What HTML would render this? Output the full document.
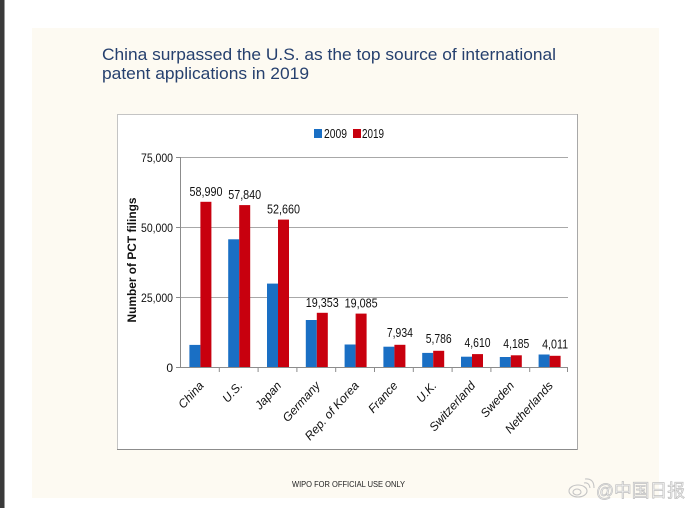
<!DOCTYPE html>
<html><head><meta charset="utf-8"><style>
html,body{margin:0;padding:0;background:#fff;}
svg{display:block;}
text{font-family:"Liberation Sans",sans-serif;}
</style></head><body>
<svg width="690" height="508" viewBox="0 0 690 508" xmlns="http://www.w3.org/2000/svg">
<rect x="0" y="0" width="690" height="508" fill="#ffffff"/>
<rect x="0" y="0" width="4" height="508" fill="#3a3a3a"/>
<rect x="4" y="0" width="1" height="508" fill="#9a9a9a"/>
<rect x="32" y="28" width="627" height="470" fill="#fdfaf2"/>

<text x="102" y="60" font-size="17" fill="#26406e" textLength="454" lengthAdjust="spacingAndGlyphs">China surpassed the U.S. as the top source of international</text>
<text x="102" y="79" font-size="17" fill="#26406e" textLength="207" lengthAdjust="spacingAndGlyphs">patent applications in 2019</text>

<!-- chart frame -->
<rect x="117.5" y="114.5" width="460" height="335" fill="#ffffff" stroke="#c4c4c4" stroke-width="1"/>
<line x1="117" y1="449.5" x2="578" y2="449.5" stroke="#8c8c8c" stroke-width="1"/>
<line x1="577.5" y1="114" x2="577.5" y2="450" stroke="#a8a8a8" stroke-width="1"/>

<!-- legend -->
<rect x="314" y="129" width="8" height="9" fill="#1a6fc4"/>
<text x="324" y="138" font-size="12.5" fill="#111" textLength="23" lengthAdjust="spacingAndGlyphs">2009</text>
<rect x="353" y="129" width="8" height="9" fill="#c8000e"/>
<text x="362" y="138" font-size="12.5" fill="#111" textLength="22" lengthAdjust="spacingAndGlyphs">2019</text>

<!-- gridlines -->
<g stroke="#a8a8a8" stroke-width="1">
<line x1="180" y1="157.5" x2="568" y2="157.5"/>
<line x1="180" y1="227.5" x2="568" y2="227.5"/>
<line x1="180" y1="297.5" x2="568" y2="297.5"/>
</g>
<!-- axes -->
<g stroke="#8c8c8c" stroke-width="1">
<line x1="180.5" y1="157" x2="180.5" y2="368"/>
<line x1="176" y1="157.5" x2="180" y2="157.5"/>
<line x1="176" y1="227.5" x2="180" y2="227.5"/>
<line x1="176" y1="297.5" x2="180" y2="297.5"/>
<line x1="176" y1="367.5" x2="568" y2="367.5"/>
<line x1="219.3" y1="367" x2="219.3" y2="372"/>
<line x1="258.1" y1="367" x2="258.1" y2="372"/>
<line x1="296.9" y1="367" x2="296.9" y2="372"/>
<line x1="335.7" y1="367" x2="335.7" y2="372"/>
<line x1="374.5" y1="367" x2="374.5" y2="372"/>
<line x1="413.3" y1="367" x2="413.3" y2="372"/>
<line x1="452.1" y1="367" x2="452.1" y2="372"/>
<line x1="490.9" y1="367" x2="490.9" y2="372"/>
<line x1="529.7" y1="367" x2="529.7" y2="372"/>
<line x1="567.5" y1="367" x2="567.5" y2="372"/>
</g>

<!-- y labels -->
<g font-size="12" fill="#111" text-anchor="end">
<text x="173" y="162" textLength="32" lengthAdjust="spacingAndGlyphs">75,000</text>
<text x="173" y="232" textLength="32" lengthAdjust="spacingAndGlyphs">50,000</text>
<text x="173" y="302" textLength="32" lengthAdjust="spacingAndGlyphs">25,000</text>
<text x="173" y="372">0</text>
</g>
<text x="136" y="260" font-size="11.5" font-weight="bold" fill="#111" text-anchor="middle" transform="rotate(-90 136 260)" textLength="125" lengthAdjust="spacingAndGlyphs">Number of PCT filings</text>

<!-- bars 2009 -->
<g fill="#1a6fc4">
<rect x="189.4" y="344.9" width="11" height="22.1"/>
<rect x="228.2" y="239.3" width="11" height="127.7"/>
<rect x="267" y="283.6" width="11" height="83.4"/>
<rect x="305.8" y="320" width="11" height="47"/>
<rect x="344.6" y="344.5" width="11" height="22.5"/>
<rect x="383.4" y="346.7" width="11" height="20.3"/>
<rect x="422.2" y="352.9" width="11" height="14.1"/>
<rect x="461" y="356.7" width="11" height="10.3"/>
<rect x="499.8" y="357" width="11" height="10"/>
<rect x="538.6" y="354.5" width="11" height="12.5"/>
</g>
<!-- bars 2019 -->
<g fill="#c8000e">
<rect x="200.4" y="201.8" width="11" height="165.2"/>
<rect x="239.2" y="205.1" width="11" height="161.9"/>
<rect x="278" y="219.6" width="11" height="147.4"/>
<rect x="316.8" y="312.8" width="11" height="54.2"/>
<rect x="355.6" y="313.6" width="11" height="53.4"/>
<rect x="394.4" y="344.8" width="11" height="22.2"/>
<rect x="433.2" y="350.8" width="11" height="16.2"/>
<rect x="472" y="354.1" width="11" height="12.9"/>
<rect x="510.8" y="355.3" width="11" height="11.7"/>
<rect x="549.6" y="355.8" width="11" height="11.2"/>
</g>

<!-- data labels -->
<g font-size="12.5" fill="#111" text-anchor="middle">
<text x="206" y="196" textLength="33" lengthAdjust="spacingAndGlyphs">58,990</text>
<text x="244.7" y="199" textLength="33" lengthAdjust="spacingAndGlyphs">57,840</text>
<text x="283.5" y="213.5" textLength="33" lengthAdjust="spacingAndGlyphs">52,660</text>
<text x="322.3" y="307" textLength="33" lengthAdjust="spacingAndGlyphs">19,353</text>
<text x="361.1" y="307.5" textLength="33" lengthAdjust="spacingAndGlyphs">19,085</text>
<text x="399.9" y="337" textLength="26" lengthAdjust="spacingAndGlyphs">7,934</text>
<text x="438.7" y="343" textLength="26" lengthAdjust="spacingAndGlyphs">5,786</text>
<text x="477.5" y="347" textLength="26" lengthAdjust="spacingAndGlyphs">4,610</text>
<text x="516.3" y="348" textLength="26" lengthAdjust="spacingAndGlyphs">4,185</text>
<text x="555.1" y="348.5" textLength="26" lengthAdjust="spacingAndGlyphs">4,011</text>
</g>

<!-- category labels -->
<g font-size="12" font-style="italic" fill="#111" text-anchor="end">
<text x="204.4" y="386" transform="rotate(-48 204.4 386)">China</text>
<text x="243.2" y="386" transform="rotate(-48 243.2 386)">U.S.</text>
<text x="282" y="386" transform="rotate(-48 282 386)">Japan</text>
<text x="320.8" y="386" transform="rotate(-48 320.8 386)">Germany</text>
<text x="359.6" y="386" transform="rotate(-48 359.6 386)">Rep. of Korea</text>
<text x="398.4" y="386" transform="rotate(-48 398.4 386)">France</text>
<text x="437.2" y="386" transform="rotate(-48 437.2 386)">U.K.</text>
<text x="476" y="386" transform="rotate(-48 476 386)">Switzerland</text>
<text x="514.8" y="386" transform="rotate(-48 514.8 386)">Sweden</text>
<text x="553.6" y="386" transform="rotate(-48 553.6 386)">Netherlands</text>
</g>

<!-- footer -->
<text x="292" y="487" font-size="8" fill="#222" textLength="113" lengthAdjust="spacingAndGlyphs">WIPO FOR OFFICIAL USE ONLY</text>

<!-- watermark -->
<g fill="none" stroke="#c4c4c4" stroke-width="1.1">
<ellipse cx="578" cy="491" rx="9" ry="6"/>
<ellipse cx="577" cy="492" rx="4" ry="3"/>
<path d="M584 483 q5 -1 6 5"/>
<path d="M585 479 q9 -1 9 9"/>
</g>
<text x="596" y="497" font-size="18" fill="#f6f6f6" stroke="#c0c0c0" stroke-width="0.7" font-family="'Liberation Sans','Noto Sans CJK SC',sans-serif" textLength="89" lengthAdjust="spacingAndGlyphs">@中国日报</text>
</svg>
</body></html>
